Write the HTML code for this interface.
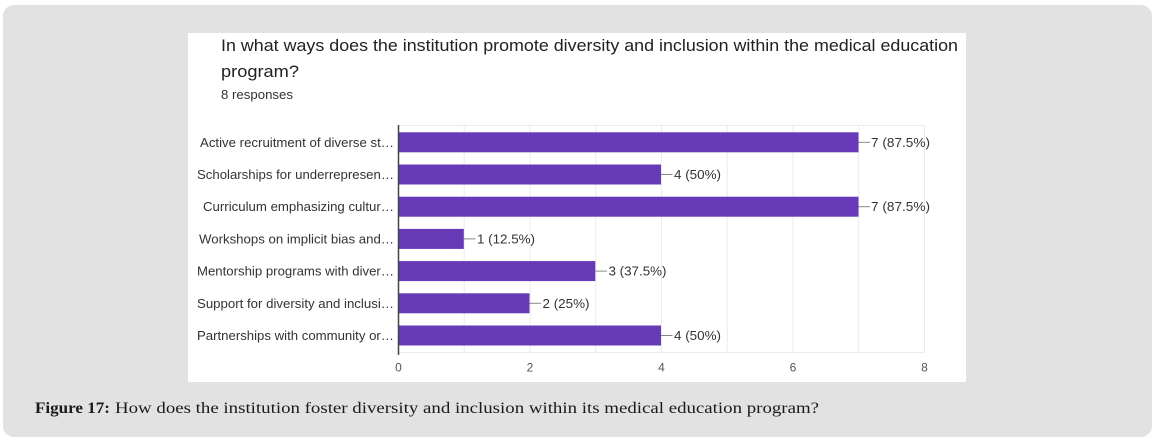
<!DOCTYPE html>
<html>
<head>
<meta charset="utf-8">
<style>
  html,body{margin:0;padding:0;background:#ffffff;}
  body{width:1155px;height:443px;overflow:hidden;}
  svg{display:block;}
</style>
</head>
<body>
<svg width="1155" height="443" viewBox="0 0 1155 443" xmlns="http://www.w3.org/2000/svg">
  <!-- outer gray panel -->
  <rect x="3" y="5" width="1149" height="432" rx="11" ry="11" fill="#e2e2e2"/>
  <!-- white chart card -->
  <rect x="188" y="33" width="778" height="349" fill="#ffffff"/>

  <!-- title -->
  <g font-family="'Liberation Sans', Arial, sans-serif" fill="#202124">
    <text x="221" y="51" font-size="17" textLength="737" lengthAdjust="spacingAndGlyphs">In what ways does the institution promote diversity and inclusion within the medical education</text>
    <text x="221" y="77" font-size="17" textLength="78" lengthAdjust="spacingAndGlyphs">program?</text>
    <text x="221" y="99" font-size="13" textLength="72" lengthAdjust="spacingAndGlyphs" fill="#333">8 responses</text>
  </g>

  <!-- gridlines -->
  <g stroke="#ebebeb" stroke-width="1">
    <line x1="398" y1="125.5" x2="924" y2="125.5"/>
    <line x1="398" y1="352.5" x2="924" y2="352.5"/>
    <line x1="464.2" y1="125" x2="464.2" y2="353"/>
    <line x1="530" y1="125" x2="530" y2="353"/>
    <line x1="595.7" y1="125" x2="595.7" y2="353"/>
    <line x1="661.5" y1="125" x2="661.5" y2="353"/>
    <line x1="727.2" y1="125" x2="727.2" y2="353"/>
    <line x1="793" y1="125" x2="793" y2="353"/>
    <line x1="858.7" y1="125" x2="858.7" y2="353"/>
    <line x1="924.5" y1="125" x2="924.5" y2="353"/>
  </g>

  <!-- bars -->
  <g fill="#673ab7">
    <rect x="398" y="132.3" width="460.5" height="20"/>
    <rect x="398" y="164.5" width="263" height="20"/>
    <rect x="398" y="196.7" width="460.5" height="20"/>
    <rect x="398" y="228.9" width="65.8" height="20"/>
    <rect x="398" y="261.1" width="197.3" height="20"/>
    <rect x="398" y="293.3" width="131.5" height="20"/>
    <rect x="398" y="325.5" width="263" height="20"/>
  </g>

  <!-- axis line -->
  <line x1="398.5" y1="125" x2="398.5" y2="355" stroke="#444" stroke-width="1.5"/>

  <!-- leader lines -->
  <g stroke="#888" stroke-width="1">
    <line x1="858.5" y1="142.3" x2="870" y2="142.3"/>
    <line x1="661" y1="174.5" x2="672.5" y2="174.5"/>
    <line x1="858.5" y1="206.7" x2="870" y2="206.7"/>
    <line x1="463.8" y1="238.9" x2="475.5" y2="238.9"/>
    <line x1="595.3" y1="271.1" x2="607" y2="271.1"/>
    <line x1="529.5" y1="303.3" x2="541" y2="303.3"/>
    <line x1="661" y1="335.5" x2="672.5" y2="335.5"/>
  </g>

  <!-- value labels -->
  <g font-family="'Liberation Sans', Arial, sans-serif" font-size="12.5" fill="#333">
    <text x="871" y="146.8" textLength="59" lengthAdjust="spacingAndGlyphs">7 (87.5%)</text>
    <text x="674" y="179" textLength="47" lengthAdjust="spacingAndGlyphs">4 (50%)</text>
    <text x="871" y="211.2" textLength="59" lengthAdjust="spacingAndGlyphs">7 (87.5%)</text>
    <text x="477" y="243.4" textLength="58" lengthAdjust="spacingAndGlyphs">1 (12.5%)</text>
    <text x="608.5" y="275.6" textLength="58" lengthAdjust="spacingAndGlyphs">3 (37.5%)</text>
    <text x="542.5" y="307.8" textLength="47" lengthAdjust="spacingAndGlyphs">2 (25%)</text>
    <text x="674" y="340" textLength="47" lengthAdjust="spacingAndGlyphs">4 (50%)</text>
  </g>

  <!-- category labels -->
  <g font-family="'Liberation Sans', Arial, sans-serif" font-size="12.5" fill="#333" text-anchor="end">
    <text x="394" y="146.8" textLength="194" lengthAdjust="spacingAndGlyphs">Active recruitment of diverse st…</text>
    <text x="394" y="179" textLength="197" lengthAdjust="spacingAndGlyphs">Scholarships for underrepresen…</text>
    <text x="394" y="211.2" textLength="191" lengthAdjust="spacingAndGlyphs">Curriculum emphasizing cultur…</text>
    <text x="394" y="243.4" textLength="195" lengthAdjust="spacingAndGlyphs">Workshops on implicit bias and…</text>
    <text x="394" y="275.6" textLength="197" lengthAdjust="spacingAndGlyphs">Mentorship programs with diver…</text>
    <text x="394" y="307.8" textLength="197" lengthAdjust="spacingAndGlyphs">Support for diversity and inclusi…</text>
    <text x="394" y="340" textLength="197" lengthAdjust="spacingAndGlyphs">Partnerships with community or…</text>
  </g>

  <!-- x tick labels -->
  <g font-family="'Liberation Sans', Arial, sans-serif" font-size="12" fill="#555" text-anchor="middle">
    <text x="398.5" y="371.5">0</text>
    <text x="530" y="371.5">2</text>
    <text x="661.5" y="371.5">4</text>
    <text x="793" y="371.5">6</text>
    <text x="924.5" y="371.5">8</text>
  </g>

  <!-- caption -->
  <g font-family="'Liberation Serif', 'Times New Roman', serif" font-size="15.5" fill="#1a1a1a">
    <text x="35" y="413" font-weight="bold" textLength="75" lengthAdjust="spacingAndGlyphs">Figure 17:</text>
    <text x="115" y="413" textLength="704" lengthAdjust="spacingAndGlyphs">How does the institution foster diversity and inclusion within its medical education program?</text>
  </g>
</svg>
</body>
</html>
